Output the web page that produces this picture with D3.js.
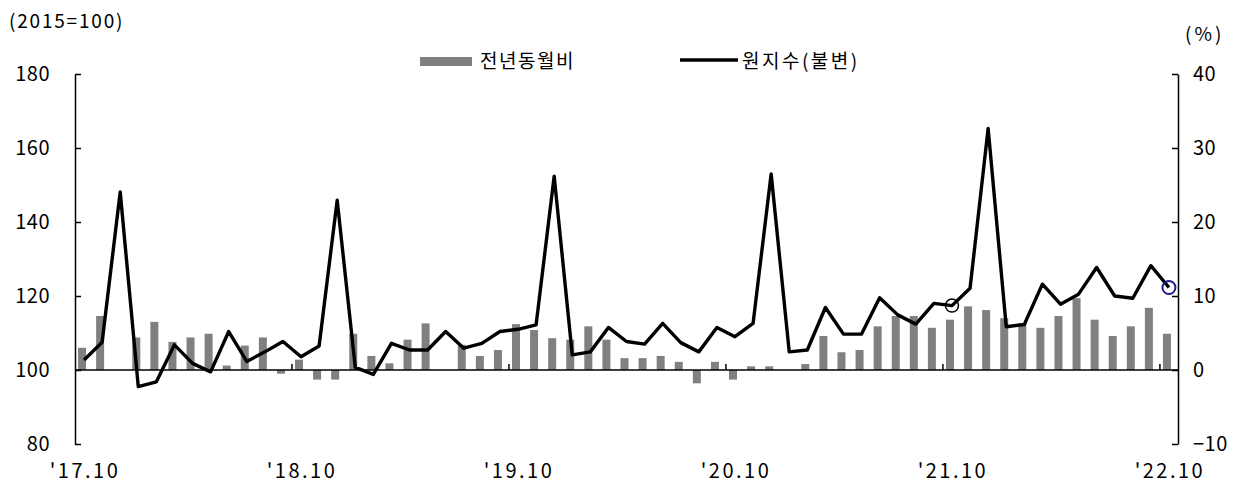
<!DOCTYPE html>
<html><head><meta charset="utf-8">
<script src="https://cdn.jsdelivr.net/npm/d3@7"></script>
<style>
body{margin:0;background:#fff;}
text{font-family:"Noto Sans CJK KR","Noto Sans",sans-serif;fill:#000;}
</style></head><body>
<svg id="c" width="1241" height="489"></svg>
<script>
// 2017.10 ~ 2022.10 monthly
const months = [];
for (let y = 2017, m = 10; y < 2022 || (y === 2022 && m <= 10); ) {
  months.push(String(y).slice(2) + "." + String(m).padStart(2, "0"));
  m++; if (m > 12) { m = 1; y++; }
}
// 원지수(불변) (2015=100)
const indexValues = [102.7,107.5,148.1,95.5,96.8,106.8,101.8,99.5,110.4,102.3,104.9,107.7,
  103.6,106.5,145.9,100.7,98.8,107.2,105.4,105.4,110.4,105.9,107.2,110.4,
  111.0,112.2,152.4,104.1,104.9,111.5,107.7,107.0,112.6,107.4,104.9,111.5,
  109.0,112.6,153.0,104.9,105.4,116.9,109.7,109.7,119.5,114.9,112.4,118.0,
  117.4,122.1,165.3,111.7,112.3,123.2,117.8,120.5,127.7,120.0,119.4,128.2,
  122.3];
// 전년동월비 (%)
const yoyValues = [3.0,7.3,0,4.4,6.5,3.8,4.4,4.9,0.6,3.3,4.4,-0.5,
  1.4,-1.3,-1.3,4.9,1.9,0.9,4.1,6.3,0,3.4,1.9,2.7,
  6.2,5.4,4.3,4.1,5.9,4.1,1.6,1.6,1.9,1.1,-1.8,1.1,
  -1.3,0.5,0.5,0,0.8,4.6,2.4,2.7,5.9,7.3,7.3,5.7,
  6.8,8.6,8.1,7.0,6.3,5.7,7.3,9.7,6.8,4.6,5.9,8.4,
  4.9];
const leftTicks = [80,100,120,140,160,180];
const rightTicks = [-10,0,10,20,30,40];
const xLabelMonths = ["17.10","18.10","19.10","20.10","21.10","22.10"];
const legendLabels = ["전년동월비","원지수(불변)"];

const svg = d3.select("#c");
const L = 75, R = 1178, T = 74, B = 444;
const x = d3.scaleBand().domain(months).range([L, R]).padding(0);
const yL = d3.scaleLinear().domain([80,180]).range([B, T]);
const yR = d3.scaleLinear().domain([-10,40]).range([B, T]);
const xc = d => x(d) + x.bandwidth()/2;

// bars
svg.append("g").selectAll("rect").data(months).join("rect")
  .attr("x", (d,i) => xc(d) - 2 - 4)
  .attr("width", 8)
  .attr("y", (d,i) => yR(Math.max(0, yoyValues[i])))
  .attr("height", (d,i) => Math.abs(yR(yoyValues[i]) - yR(0)))
  .attr("fill", "#808080");

// axes
const ax = svg.append("g").attr("transform", `translate(${L},0)`)
  .call(d3.axisLeft(yL).tickValues(leftTicks).tickSizeInner(-6).tickSizeOuter(0).tickPadding(25));
const ax2 = svg.append("g").attr("transform", `translate(${R},0)`)
  .call(d3.axisRight(yR).tickValues(rightTicks).tickSizeInner(-6).tickSizeOuter(0).tickPadding(15)
    .tickFormat(d => d < 0 ? "\u2212" + Math.abs(d) : d));
[ax, ax2].forEach(a => {
  a.selectAll("path,line").attr("stroke", "#000").attr("stroke-width", 1.5);
  a.selectAll("text").style("font-size", "20px").style("letter-spacing", "0.5px").attr("fill", "#000");
});

// x axis line at 0 / 100
const y0 = yR(0);
svg.append("line").attr("x1", L).attr("x2", R).attr("y1", y0).attr("y2", y0)
  .attr("stroke", "#000").attr("stroke-width", 1.5);
svg.append("g").selectAll("line").data(xLabelMonths.slice(1)).join("line")
  .attr("x1", d => x(d)).attr("x2", d => x(d))
  .attr("y1", y0).attr("y2", y0 - 6)
  .attr("stroke", "#000").attr("stroke-width", 1.5);
svg.append("g").selectAll("text").data(xLabelMonths).join("text")
  .attr("x", d => xc(d) + 1).attr("y", 478)
  .attr("text-anchor", "middle")
  .style("font-size", "20px").style("letter-spacing", "2.5px")
  .text(d => "'" + d);

// line
const line = d3.line().x((d,i) => xc(months[i])).y(d => yL(d));
svg.append("path").datum(indexValues).attr("d", line)
  .attr("fill", "none").attr("stroke", "#000").attr("stroke-width", 3.4)
  .attr("stroke-linejoin", "round");

// highlight circles
svg.append("circle").attr("cx", xc(months[48])).attr("cy", yL(indexValues[48])).attr("r", 6.5)
  .attr("fill", "none").attr("stroke", "#000").attr("stroke-width", 1.5);
svg.append("circle").attr("cx", xc(months[60])).attr("cy", yL(indexValues[60])).attr("r", 6.5)
  .attr("fill", "none").attr("stroke", "#1c1c8c").attr("stroke-width", 2);

// unit labels
svg.append("text").attr("x", 9).attr("y", 28).style("font-size", "19px").style("letter-spacing", "1.8px").text("(2015=100)");
svg.append("text").attr("x", 1185).attr("y", 41).style("font-size", "19px").style("letter-spacing", "3px").text("(%)");

// legend
svg.append("rect").attr("x", 420).attr("y", 57).attr("width", 52).attr("height", 9).attr("fill", "#808080");
svg.append("text").attr("x", 480).attr("y", 68).style("font-size", "19px").style("letter-spacing", "1.5px").text(legendLabels[0]);
svg.append("line").attr("x1", 680).attr("x2", 738).attr("y1", 60).attr("y2", 60)
  .attr("stroke", "#000").attr("stroke-width", 3.3);
svg.append("text").attr("x", 742).attr("y", 68).style("font-size", "19px").style("letter-spacing", "2.5px").text(legendLabels[1]);
</script>
</body></html>
